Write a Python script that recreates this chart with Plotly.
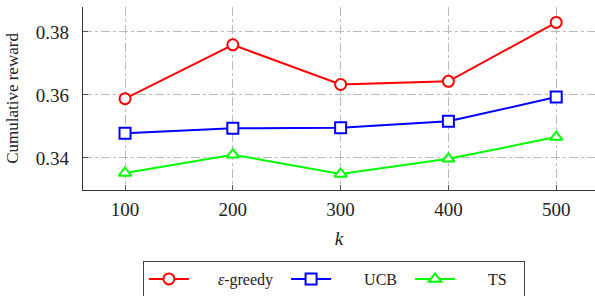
import plotly.graph_objects as go

k_values = [100, 200, 300, 400, 500]
eps_greedy = [0.3588, 0.3759, 0.3633, 0.3643, 0.3830]
ucb = [0.3478, 0.3494, 0.3496, 0.3516, 0.3593]
ts = [0.3352, 0.3410, 0.3349, 0.3397, 0.3466]
y_ticks = [0.34, 0.36, 0.38]
x_ticks = [100, 200, 300, 400, 500]

NB = "\u00a0"
series = [
    (NB * 6 + "<i>ε</i>-greedy" + NB * 2, eps_greedy, "#ff0000", "circle"),
    (NB * 7 + "UCB" + NB * 2, ucb, "#0000ff", "square"),
    (NB * 7 + "TS" + NB * 3, ts, "#00ff00", "triangle-up"),
]

fig = go.Figure()
for name, vals, color, sym in series:
    fig.add_trace(go.Scatter(
        x=k_values, y=vals, name=name, mode="lines+markers",
        line=dict(color=color, width=2),
        marker=dict(symbol=sym, size=11, color="white",
                    line=dict(color=color, width=2)),
    ))

font_family = "Liberation Serif"
fig.update_layout(
    width=595, height=296,
    margin=dict(l=83, r=0, t=7, b=106, autoexpand=False),
    paper_bgcolor="white", plot_bgcolor="white",
    font=dict(family=font_family, color="#222222"),
    showlegend=True,
    legend=dict(
        orientation="h", x=0.117, y=-0.388, xanchor="left", yanchor="top",
        bordercolor="#444444", borderwidth=1, font=dict(size=16, family=font_family),
        itemwidth=40, tracegroupgap=0,
    ),
    xaxis=dict(
        range=[61, 536], tickvals=x_ticks, ticktext=[str(v) for v in x_ticks],
        showline=True, linecolor="#333333", linewidth=1.2,
        ticks="inside", ticklen=5, tickcolor="#555555",
        showgrid=True, gridcolor="#bbbbbb", griddash="dashdot", gridwidth=1,
        zeroline=False, tickfont=dict(size=19), ticklabelstandoff=2,
        title=dict(text="<i>k</i>", font=dict(size=19), standoff=12),
        automargin=False,
    ),
    yaxis=dict(
        range=[0.3298, 0.3879], tickvals=y_ticks, ticktext=[f"{v:.2f}" for v in y_ticks],
        showline=True, linecolor="#333333", linewidth=1.2,
        ticks="inside", ticklen=5, tickcolor="#555555",
        showgrid=True, gridcolor="#bbbbbb", griddash="dashdot", gridwidth=1,
        zeroline=False, tickfont=dict(size=19), ticklabelstandoff=9,
        title=dict(text="Cumulative reward", font=dict(size=17), standoff=12),
        automargin=False,
    ),
)

fig.write_html("out.html", config={"displayModeBar": False},
               post_script="document.body.style.margin='0';")
